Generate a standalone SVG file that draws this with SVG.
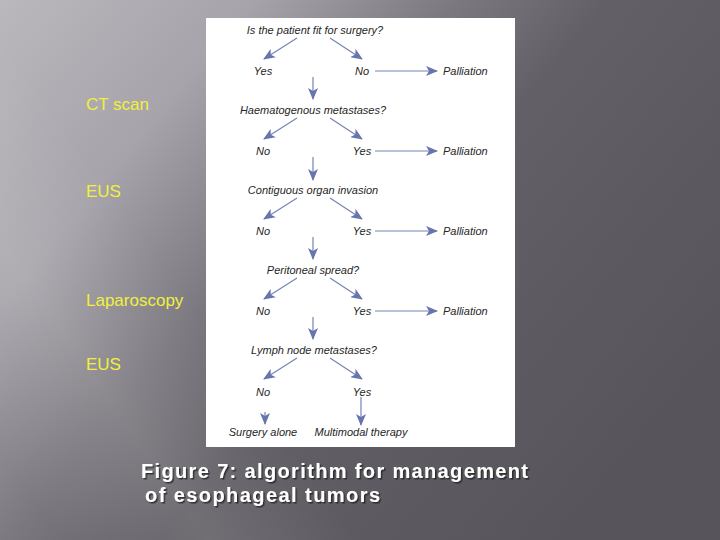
<svg xmlns="http://www.w3.org/2000/svg" width="720" height="540" viewBox="0 0 720 540">
<defs>
<linearGradient id="bg" gradientUnits="userSpaceOnUse" x1="0" y1="0" x2="600" y2="500">
<stop offset="0" stop-color="#bab8bd"/>
<stop offset="0.25" stop-color="#a6a4aa"/>
<stop offset="0.45" stop-color="#7b797f"/>
<stop offset="0.6" stop-color="#626066"/>
<stop offset="1" stop-color="#57555b"/>
</linearGradient>
<linearGradient id="band" gradientUnits="userSpaceOnUse" x1="60" y1="540" x2="260" y2="400">
<stop offset="0" stop-color="#ffffff" stop-opacity="0"/>
<stop offset="0.5" stop-color="#ffffff" stop-opacity="0.1"/>
<stop offset="1" stop-color="#ffffff" stop-opacity="0"/>
</linearGradient>
<marker id="ah" viewBox="0 0 12 10" refX="11" refY="5" markerWidth="12" markerHeight="10" markerUnits="userSpaceOnUse" orient="auto">
<path d="M0,0 L12,5 L0,10 L3,5 z" fill="#6676ad"/>
</marker>
<filter id="sh" x="-5%" y="-20%" width="110%" height="140%">
<feDropShadow dx="1.5" dy="1.5" stdDeviation="0.6" flood-color="#222" flood-opacity="0.8"/>
</filter>
</defs>
<style>
.q{font-family:"Liberation Sans",Arial,sans-serif;font-style:italic;font-size:11px;fill:#262626;text-anchor:middle}
.a{font-family:"Liberation Sans",Arial,sans-serif;font-style:italic;font-size:11px;fill:#262626;text-anchor:middle}
.p{font-family:"Liberation Sans",Arial,sans-serif;font-style:italic;font-size:11px;fill:#262626}
.lab{font-family:"Liberation Sans",Arial,sans-serif;font-size:17px;fill:#f2f03c}
.cap{font-family:"Liberation Sans",Arial,sans-serif;font-weight:bold;font-size:20px;fill:#ffffff}
.c line{stroke:#7583b6;stroke-width:1.2;fill:none;marker-end:url(#ah)}
</style>
<rect width="720" height="540" fill="url(#bg)"/>
<rect width="720" height="540" fill="url(#band)"/>
<rect x="206" y="18" width="309" height="429" fill="#ffffff"/>

<g id="labels">
<text class="lab" x="86" y="110">CT scan</text>
<text class="lab" x="86" y="197">EUS</text>
<text class="lab" x="86" y="306">Laparoscopy</text>
<text class="lab" x="86" y="370">EUS</text>
</g>

<g id="q1"><text class="q" x="315" y="34">Is the patient fit for surgery?</text></g>
<g id="q1-yes"><text class="a" x="263" y="75">Yes</text></g>
<g id="q1-no"><text class="a" x="362" y="75">No</text></g>
<g id="pal1"><text class="p" x="443" y="75">Palliation</text></g>

<g id="q2"><text class="q" x="313" y="114">Haematogenous metastases?</text></g>
<g id="q2-no"><text class="a" x="263" y="155">No</text></g>
<g id="q2-yes"><text class="a" x="362" y="155">Yes</text></g>
<g id="pal2"><text class="p" x="443" y="155">Palliation</text></g>

<g id="q3"><text class="q" x="313" y="194">Contiguous organ invasion</text></g>
<g id="q3-no"><text class="a" x="263" y="235">No</text></g>
<g id="q3-yes"><text class="a" x="362" y="235">Yes</text></g>
<g id="pal3"><text class="p" x="443" y="235">Palliation</text></g>

<g id="q4"><text class="q" x="313" y="274">Peritoneal spread?</text></g>
<g id="q4-no"><text class="a" x="263" y="315">No</text></g>
<g id="q4-yes"><text class="a" x="362" y="315">Yes</text></g>
<g id="pal4"><text class="p" x="443" y="315">Palliation</text></g>

<g id="q5"><text class="q" x="314" y="354">Lymph node metastases?</text></g>
<g id="q5-no"><text class="a" x="263" y="396">No</text></g>
<g id="q5-yes"><text class="a" x="362" y="396">Yes</text></g>
<g id="surgery"><text class="a" x="263" y="436">Surgery alone</text></g>
<g id="multimodal"><text class="a" x="361" y="436">Multimodal therapy</text></g>

<g id="connectors" class="c">
<line x1="297" y1="38" x2="264" y2="59"/>
<line x1="330" y1="38" x2="362" y2="59"/>
<line x1="375" y1="71" x2="437" y2="71"/>
<line x1="313" y1="77" x2="313" y2="99"/>

<line x1="297" y1="118" x2="264" y2="139"/>
<line x1="330" y1="118" x2="362" y2="139"/>
<line x1="375" y1="151" x2="437" y2="151"/>
<line x1="313" y1="157" x2="313" y2="180"/>

<line x1="297" y1="198" x2="264" y2="219"/>
<line x1="330" y1="198" x2="362" y2="219"/>
<line x1="375" y1="231" x2="437" y2="231"/>
<line x1="313" y1="237" x2="313" y2="259"/>

<line x1="297" y1="278" x2="264" y2="299"/>
<line x1="330" y1="278" x2="362" y2="299"/>
<line x1="375" y1="311" x2="437" y2="311"/>
<line x1="313" y1="317" x2="313" y2="339"/>

<line x1="297" y1="358" x2="264" y2="379"/>
<line x1="330" y1="358" x2="362" y2="379"/>
<line x1="265" y1="412" x2="265" y2="424"/>
<line x1="361" y1="397" x2="361" y2="425"/>
</g>

<g id="caption" filter="url(#sh)">
<text class="cap" x="141" y="478" textLength="387" lengthAdjust="spacing">Figure 7: algorithm for management</text>
<text class="cap" x="145" y="502" textLength="235" lengthAdjust="spacing">of esophageal tumors</text>
</g>
</svg>
